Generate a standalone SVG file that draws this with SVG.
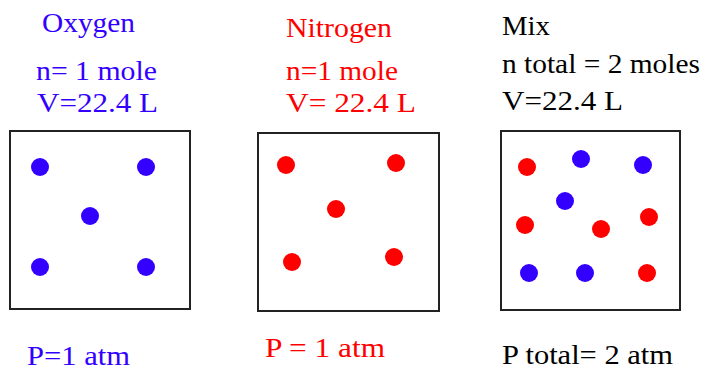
<svg xmlns="http://www.w3.org/2000/svg" width="706" height="371" viewBox="0 0 706 371">
<style>
  text { font-family: "Liberation Serif", "Times New Roman", serif; font-size: 27px; }
  .b { fill: #3300ff; }
  .r { fill: #ff0000; }
  .k { fill: #000000; }
  .box { fill: #ffffff; stroke: #222222; stroke-width: 2; }
</style>
<rect width="706" height="371" fill="#ffffff"/>
<g id="oxygen">
  <text class="b" x="42" y="32" textLength="93" lengthAdjust="spacingAndGlyphs">Oxygen</text>
  <text class="b" x="36" y="80" textLength="121" lengthAdjust="spacingAndGlyphs">n= 1 mole</text>
  <text class="b" x="37" y="112" textLength="121" lengthAdjust="spacingAndGlyphs">V=22.4 L</text>
  <rect class="box" x="10" y="131" width="180" height="178"/>
  <g class="b">
    <circle cx="40" cy="167" r="9"/>
    <circle cx="146" cy="167" r="9"/>
    <circle cx="90" cy="216" r="9"/>
    <circle cx="40" cy="267" r="9"/>
    <circle cx="146" cy="267" r="9"/>
  </g>
  <text class="b" x="27" y="365" textLength="103" lengthAdjust="spacingAndGlyphs">P=1 atm</text>
</g>
<g id="nitrogen">
  <text class="r" x="286" y="37" textLength="106" lengthAdjust="spacingAndGlyphs">Nitrogen</text>
  <text class="r" x="286" y="80" textLength="112" lengthAdjust="spacingAndGlyphs">n=1 mole</text>
  <text class="r" x="286" y="112" textLength="130" lengthAdjust="spacingAndGlyphs">V= 22.4 L</text>
  <rect class="box" x="258" y="133" width="181" height="178"/>
  <g class="r">
    <circle cx="286" cy="165" r="9"/>
    <circle cx="396" cy="163" r="9"/>
    <circle cx="336" cy="209" r="9"/>
    <circle cx="292" cy="262" r="9"/>
    <circle cx="394" cy="257" r="9"/>
  </g>
  <text class="r" x="265" y="357" textLength="120" lengthAdjust="spacingAndGlyphs">P = 1 atm</text>
</g>
<g id="mix">
  <text class="k" x="502" y="35" textLength="48" lengthAdjust="spacingAndGlyphs">Mix</text>
  <text class="k" x="502" y="73" textLength="198" lengthAdjust="spacingAndGlyphs">n total = 2 moles</text>
  <text class="k" x="502" y="110" textLength="121" lengthAdjust="spacingAndGlyphs">V=22.4 L</text>
  <rect class="box" x="501" y="131" width="179" height="179"/>
  <circle class="r" cx="527" cy="167" r="9"/>
  <circle class="b" cx="581" cy="159" r="9"/>
  <circle class="b" cx="643" cy="165" r="9"/>
  <circle class="b" cx="565" cy="201" r="9"/>
  <circle class="r" cx="525" cy="225" r="9"/>
  <circle class="r" cx="601" cy="229" r="9"/>
  <circle class="r" cx="649" cy="217" r="9"/>
  <circle class="b" cx="529" cy="273" r="9"/>
  <circle class="b" cx="585" cy="273" r="9"/>
  <circle class="r" cx="647" cy="273" r="9"/>
  <text class="k" x="502" y="364" textLength="171" lengthAdjust="spacingAndGlyphs">P total= 2 atm</text>
</g>
<g id="connectors"></g>
</svg>
